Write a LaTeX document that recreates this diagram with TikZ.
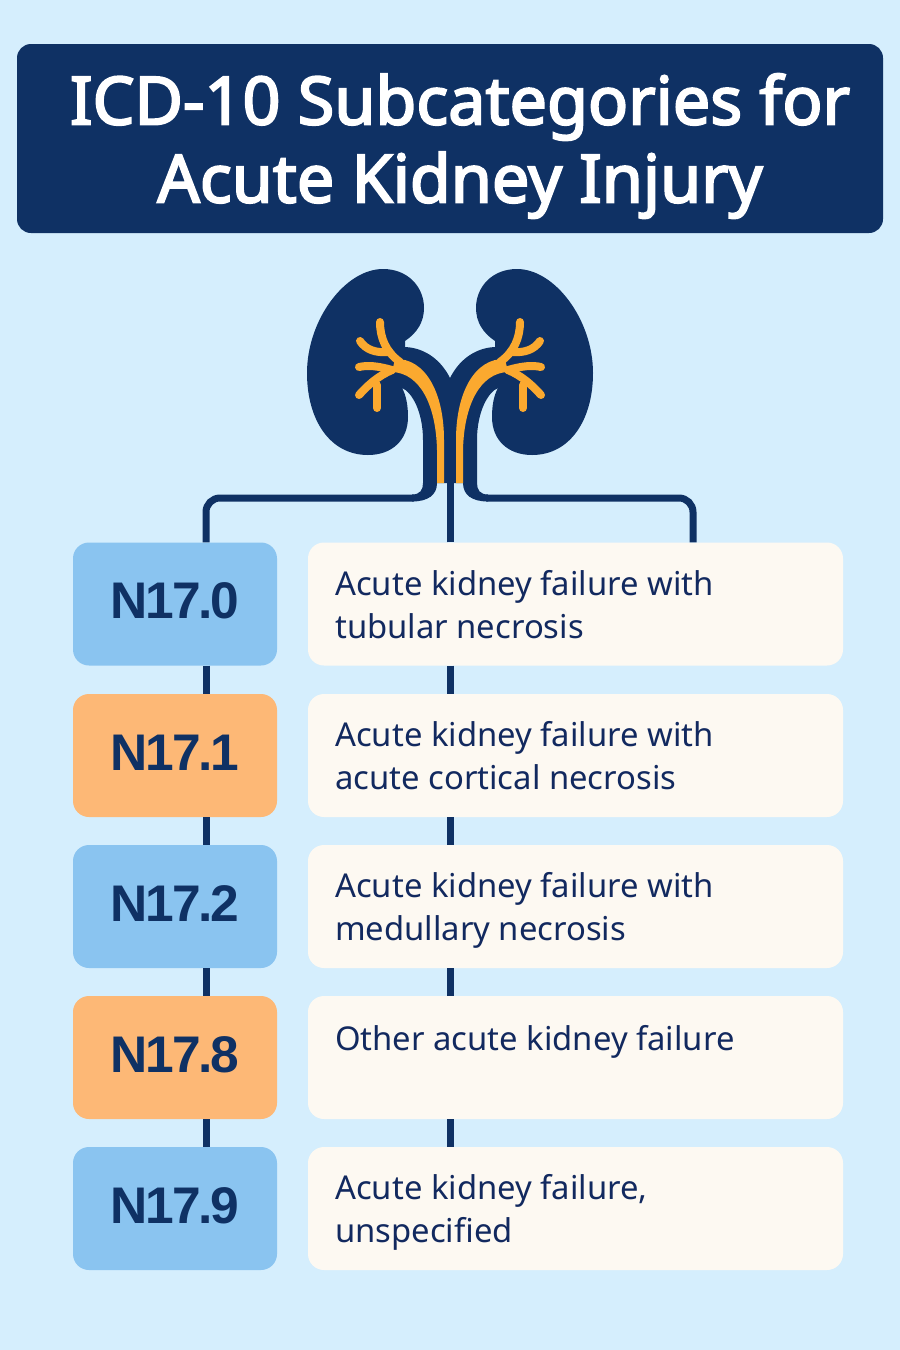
\documentclass[tikz,border=0pt]{standalone}
\usepackage{fontspec}
\setmainfont{Noto Sans}
\newfontfamily\headfont[FakeBold=3]{Noto Sans}
\newfontfamily\codefont[LetterSpace=-4]{Liberation Sans}
\definecolor{skybg}{HTML}{D5EEFD}
\definecolor{navy}{HTML}{0F3164}
\definecolor{codeblue}{HTML}{8AC4F0}
\definecolor{codeorange}{HTML}{FDB876}
\definecolor{cream}{HTML}{FDF9F2}
\definecolor{amber}{HTML}{FBA92F}
\definecolor{inktext}{HTML}{12295F}
\tikzset{
  titlebox/.style={fill=navy,rounded corners=14pt,minimum width=866pt,minimum height=189pt,inner sep=0pt},
  codebox/.style={rounded corners=16pt,minimum width=204pt,minimum height=123pt,inner sep=0pt,
    text=navy,text depth=6pt,font=\fontsize{51.5}{52}\codefont\bfseries},
  descbox/.style={fill=cream,rounded corners=16pt,minimum width=535pt,minimum height=123pt,inner sep=0pt},
  desctext/.style={anchor=north west,inner sep=0pt,align=left,text=inktext,
    font=\fontsize{32.8}{43}\selectfont},
  link/.style={navy,line width=7pt},
  branch/.style={amber,line width=8pt,line cap=round},
  pics/kidneyhalf/.style={code={
    \fill[navy] (405,347) .. controls (427,348) and (442,362) .. (450,378) -- (450,483) -- (437,483)
      .. controls (437,495) and (428,501.5) .. (412,501.5) -- (412,494.5)
      .. controls (420,494.5) and (423,490) .. (423,483) -- (423,440)
      .. controls (423,412) and (412,392) .. (402,388)
      .. controls (406,395) and (408,405) .. (408,417)
      .. controls (408,440) and (392,455) .. (368,455)
      .. controls (330,455) and (307,420) .. (307,373)
      .. controls (307,320) and (345,269) .. (383,269)
      .. controls (408,269) and (424,287) .. (424,308)
      .. controls (424,322) and (417,333) .. (405,341) -- cycle;
    \fill[amber] (395,359) .. controls (425,358) and (444,392) .. (444,440) -- (444,483) -- (437,483) -- (437,450)
      .. controls (436,405) and (420,373) .. (392,372) -- cycle;
    \draw[branch] (380,322) .. controls (380,338) and (386,352) .. (400,362);
    \draw[branch] (360,341) .. controls (366,350) and (376,353) .. (388,352);
    \draw[branch] (359,367) .. controls (368,365) and (378,366) .. (392,370);
    \draw[branch] (359,395) .. controls (368,385) and (378,376) .. (392,370);
    \draw[branch] (377,408) -- (377,385);
  }}
}
\begin{document}
\begin{tikzpicture}[x=1pt,y=-1pt]
  \useasboundingbox[fill=skybg] (0,0) rectangle (900,1350);
  % header
  \node[titlebox] (head) at (450,138.5) {};
  \node[text=white,align=center,inner sep=0pt,font=\fontsize{66.5}{78}\headfont] (headtext) at (460,146)
    {ICD-10 Subcategories for\\Acute Kidney Injury};
  % code column
  \node[codebox,fill=codeblue] (n0) at (175,604) {N17.0};
  \node[codebox,fill=codeorange] (n1) at (175,755.5) {N17.1};
  \node[codebox,fill=codeblue] (n2) at (175,906.5) {N17.2};
  \node[codebox,fill=codeorange] (n3) at (175,1057.5) {N17.8};
  \node[codebox,fill=codeblue] (n4) at (175,1208.5) {N17.9};
  % description column
  \node[descbox] (d0) at (575.5,604) {};
  \node[descbox] (d1) at (575.5,755.5) {};
  \node[descbox] (d2) at (575.5,906.5) {};
  \node[descbox] (d3) at (575.5,1057.5) {};
  \node[descbox] (d4) at (575.5,1208.5) {};
  \node[desctext] (t0) at (335,570) {Acute kidney failure with\\tubular necrosis};
  \node[desctext] (t1) at (335,721) {Acute kidney failure with\\acute cortical necrosis};
  \node[desctext] (t2) at (335,872) {Acute kidney failure with\\medullary necrosis};
  \node[desctext] (t3) at (335,1025) {Other acute kidney failure};
  \node[desctext] (t4) at (335,1174) {Acute kidney failure,\\unspecified};
  % trunks
  \coordinate (trunkL) at (206,498);
  \coordinate (trunkC) at (450,483);
  \coordinate (trunkR) at (693,498);
  \coordinate (uretL) at (414,498);
  \coordinate (uretR) at (486,498);
  \draw[link,rounded corners=14pt] (n0.north -| trunkL) |- (uretL);
  \draw[link,rounded corners=14pt] (d0.north -| trunkR) |- (uretR);
  \draw[link] (d0.north -| trunkC) -- (trunkC);
  \draw[link] (n0.south -| trunkL) -- (n1.north -| trunkL);
  \draw[link] (n1.south -| trunkL) -- (n2.north -| trunkL);
  \draw[link] (n2.south -| trunkL) -- (n3.north -| trunkL);
  \draw[link] (n3.south -| trunkL) -- (n4.north -| trunkL);
  \draw[link] (d0.south -| trunkC) -- (d1.north -| trunkC);
  \draw[link] (d1.south -| trunkC) -- (d2.north -| trunkC);
  \draw[link] (d2.south -| trunkC) -- (d3.north -| trunkC);
  \draw[link] (d3.south -| trunkC) -- (d4.north -| trunkC);
  % kidneys
  \pic {kidneyhalf};
  \pic[xscale=-1] at (900,0) {kidneyhalf};
\end{tikzpicture}
\end{document}
